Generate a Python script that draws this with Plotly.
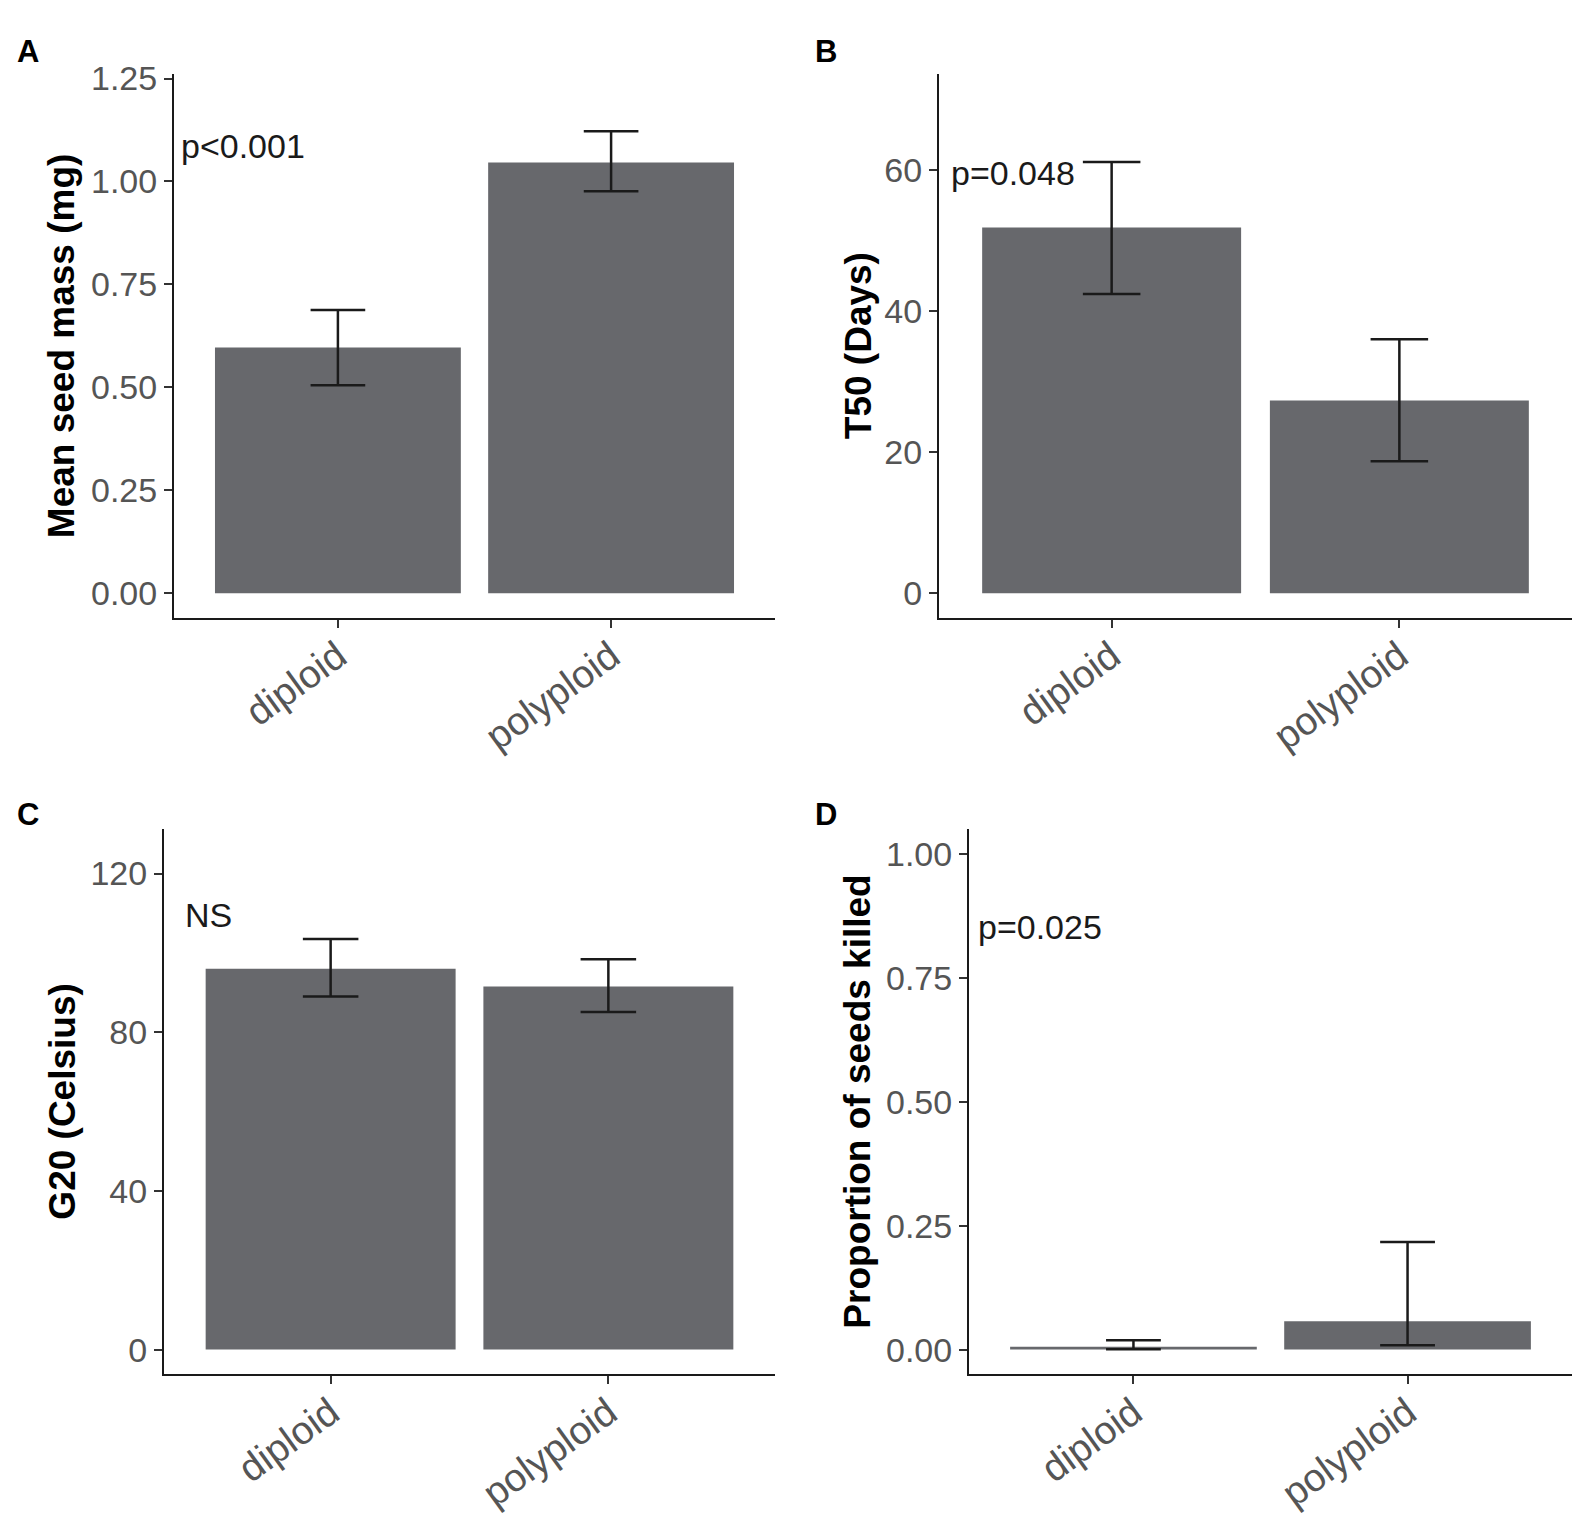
import plotly.graph_objects as go

W, H = 1583, 1517

groups = ["diploid", "polyploid"]

# A: mean seed mass (mg), with lower / upper error limits
seed_mass = [0.597, 1.046]
seed_mass_lo = [0.505, 0.976]
seed_mass_hi = [0.688, 1.122]

# B: T50 (days)
t50 = [51.8, 27.3]
t50_lo = [42.4, 18.7]
t50_hi = [61.1, 36.0]

# C: G20 (Celsius)
g20 = [96.0, 91.5]
g20_lo = [89.0, 85.1]
g20_hi = [103.5, 98.4]

# D: proportion of seeds killed
killed = [0.006, 0.057]
killed_lo = [0.001, 0.009]
killed_hi = [0.019, 0.217]

panel_letters = ["A", "B", "C", "D"]
y_titles = ["Mean seed mass (mg)", "T50 (Days)", "G20 (Celsius)", "Proportion of seeds killed"]
p_labels = ["p<0.001", "p=0.048", "NS", "p=0.025"]
y_upper = [1.2, 70, 125, 1.0]
y_tickvals = [[0, 0.25, 0.5, 0.75, 1.0, 1.25], [0, 20, 40, 60], [0, 40, 80, 120], [0, 0.25, 0.5, 0.75, 1.0]]
y_ticktext = [["0.00", "0.25", "0.50", "0.75", "1.00", "1.25"], ["0", "20", "40", "60"],
              ["0", "40", "80", "120"], ["0.00", "0.25", "0.50", "0.75", "1.00"]]

series = [(seed_mass, seed_mass_lo, seed_mass_hi), (t50, t50_lo, t50_hi),
          (g20, g20_lo, g20_hi), (killed, killed_lo, killed_hi)]

# panel boxes in page pixels, plus where the y title and the letter go
panels = [
    dict(x0=174, x1=775, y0=60, y1=609, title_x=61, letter=(28, 37), note=(-0.582, 1.085)),
    dict(x0=939, x1=1572, y0=60, y1=609, title_x=858, letter=(826, 37), note=(-0.565, 59.5)),
    dict(x0=164, x1=775, y0=822, y1=1373, title_x=63, letter=(28, 807), note=(-0.53, 109.5)),
    dict(x0=969, x1=1572, y0=822, y1=1373, title_x=858, letter=(826, 807), note=(-0.573, 0.853)),
]

FONT = "Liberation Sans, Arial, sans-serif"
BAR = "#67686c"
INK = "#1a1a1a"
TICKTXT = "#555555"

fig = go.Figure()
annotations = []
layout = dict(
    width=W, height=H,
    margin=dict(l=0, r=0, t=0, b=0),
    paper_bgcolor="white", plot_bgcolor="white",
    showlegend=False,
    font=dict(family=FONT, color=INK),
)

for i, (p, (mean, lo, hi)) in enumerate(zip(panels, series)):
    n = "" if i == 0 else str(i + 1)
    px_per_unit = (p["x1"] - p["x0"]) / 2.2
    fig.add_trace(go.Bar(
        x=groups, y=mean, width=0.9,
        marker=dict(color=BAR, line=dict(width=0)),
        error_y=dict(type="data", symmetric=False,
                     array=[h - m for h, m in zip(hi, mean)],
                     arrayminus=[m - l for m, l in zip(mean, lo)],
                     color=INK, thickness=2.5, width=0.1 * px_per_unit),
        xaxis="x" + n, yaxis="y" + n,
    ))
    layout["xaxis" + n] = dict(
        domain=[p["x0"] / W, p["x1"] / W], anchor="y" + n,
        range=[-0.6, 1.6], type="category",
        showline=True, linecolor=INK, linewidth=2,
        ticks="outside", ticklen=8, tickwidth=2, tickcolor="#333333",
        tickangle=-36, ticklabelstandoff=-10,
        tickfont=dict(size=39, color=TICKTXT, family=FONT),
        showgrid=False, zeroline=False,
    )
    top = y_upper[i]
    layout["yaxis" + n] = dict(
        domain=[1 - p["y1"] / H, 1 - p["y0"] / H], anchor="x" + n,
        range=[-0.05 * top, 1.05 * top],
        tickvals=y_tickvals[i], ticktext=y_ticktext[i],
        showline=True, linecolor=INK, linewidth=2,
        ticks="outside", ticklen=8, tickwidth=2, tickcolor="#333333",
        tickfont=dict(size=34, color=TICKTXT, family=FONT),
        showgrid=False, zeroline=False,
    )
    # y axis title
    annotations.append(dict(
        text="<b>" + y_titles[i] + "</b>", textangle=-90,
        xref="paper", yref="paper",
        x=p["title_x"] / W, y=1 - (p["y0"] + p["y1"]) / 2 / H,
        xanchor="center", yanchor="middle", showarrow=False,
        font=dict(size=37, color="black", family=FONT),
    ))
    # panel letter
    annotations.append(dict(
        text="<b>" + panel_letters[i] + "</b>",
        xref="paper", yref="paper",
        x=p["letter"][0] / W, y=1 - p["letter"][1] / H,
        xanchor="center", yanchor="middle", showarrow=False,
        font=dict(size=31, color="black", family=FONT),
    ))
    # significance note
    annotations.append(dict(
        text=p_labels[i], xref="x" + n, yref="y" + n,
        x=p["note"][0], y=p["note"][1],
        xanchor="left", yanchor="middle", showarrow=False,
        font=dict(size=34, color=INK, family=FONT),
    ))

layout["annotations"] = annotations
fig.update_layout(**layout)

fig.write_html("out.html", config={"displayModeBar": False},
               post_script="document.body.style.margin='0';")
